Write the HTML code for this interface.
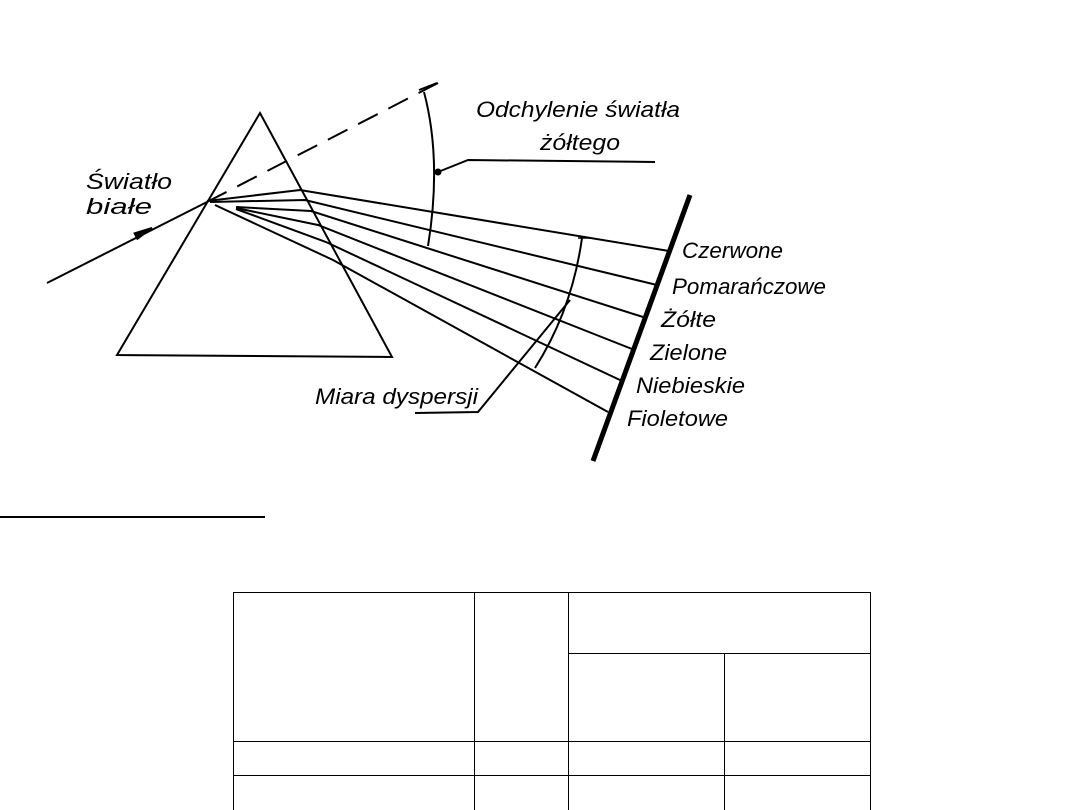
<!DOCTYPE html>
<html><head><meta charset="utf-8"><style>
html,body{margin:0;padding:0;background:#fff;}
svg{display:block}
text{font-family:"Liberation Sans",sans-serif;font-style:italic;font-size:22px;fill:#000}
</style></head><body>
<svg width="1080" height="810" viewBox="0 0 1080 810">
<g stroke="#000" fill="none" stroke-width="2">
<polygon points="260,113 117,355 392,357"/>
<line x1="47" y1="283" x2="207" y2="202"/>
<polygon points="152,228 137.4,238.7 134.6,233.3" fill="#000"/>
<line x1="207" y1="202" x2="438" y2="83" stroke-dasharray="22,12"/>
<polyline points="207,201 300,190 669,251"/>
<polyline points="210,202 305,200 657,285"/>
<polyline points="236,207 311,211 643,317"/>
<polyline points="236,208 318,225 632,349"/>
<polyline points="236,209 326,242 620,380"/>
<polyline points="215,205 333,260 608,412"/>
<line x1="690" y1="195" x2="593" y2="461" stroke-width="5"/>
<path d="M424,92 Q442,160 428,246"/>
<line x1="419" y1="90" x2="437" y2="83"/>
<path d="M438,172 L468,160 L655,162"/>
<circle cx="438" cy="172" r="2.5" fill="#000"/>
<path d="M582,238 Q572,310 535,368"/>
<path d="M415,413 L478,412 L570,300"/>
<line x1="578" y1="238" x2="590" y2="238" stroke-width="1.5"/>
<line x1="0" y1="517" x2="265" y2="517"/>
</g>
<text x="86" y="189" textLength="86" lengthAdjust="spacingAndGlyphs">Światło</text>
<text x="86" y="214" textLength="66" lengthAdjust="spacingAndGlyphs">białe</text>
<text x="476" y="117" textLength="204" lengthAdjust="spacingAndGlyphs">Odchylenie światła</text>
<text x="540" y="150" textLength="80" lengthAdjust="spacingAndGlyphs">żółtego</text>
<text x="315" y="404" textLength="163" lengthAdjust="spacingAndGlyphs">Miara dyspersji</text>
<text x="682" y="258" textLength="101" lengthAdjust="spacingAndGlyphs">Czerwone</text>
<text x="672" y="294" textLength="154" lengthAdjust="spacingAndGlyphs">Pomarańczowe</text>
<text x="661" y="327" textLength="55" lengthAdjust="spacingAndGlyphs">Żółte</text>
<text x="650" y="360" textLength="77" lengthAdjust="spacingAndGlyphs">Zielone</text>
<text x="636" y="393" textLength="109" lengthAdjust="spacingAndGlyphs">Niebieskie</text>
<text x="627" y="426" textLength="101" lengthAdjust="spacingAndGlyphs">Fioletowe</text>
<g stroke="#000" stroke-width="1" fill="none">
<line x1="233" y1="592.5" x2="871" y2="592.5"/>
<line x1="568" y1="653.5" x2="871" y2="653.5"/>
<line x1="233" y1="741.5" x2="871" y2="741.5"/>
<line x1="233" y1="775.5" x2="871" y2="775.5"/>
<line x1="233.5" y1="592" x2="233.5" y2="810"/>
<line x1="474.5" y1="592" x2="474.5" y2="810"/>
<line x1="568.5" y1="592" x2="568.5" y2="810"/>
<line x1="724.5" y1="653" x2="724.5" y2="810"/>
<line x1="870.5" y1="592" x2="870.5" y2="810"/>
</g>
</svg>
</body></html>
